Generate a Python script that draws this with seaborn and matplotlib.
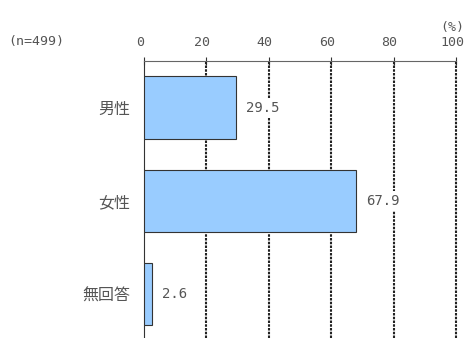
import matplotlib
matplotlib.use("Agg")
import matplotlib.pyplot as plt
import matplotlib.transforms as mtransforms
import seaborn as sns
import pandas as pd

categories = ["男性", "女性", "無回答"]
values = [29.5, 67.9, 2.6]
xticks = [0, 20, 40, 60, 80, 100]
n_label = "(n=499)"
unit_label = "(%)"

sns.set_style("white")
plt.rcParams['font.family'] = ['Noto Sans CJK JP', 'DejaVu Sans']
MONO = ['DejaVu Sans Mono']
TXT = "#555555"

df = pd.DataFrame({"cat": categories, "val": values})

fig = plt.figure(figsize=(4.67, 3.38), dpi=100)
ax = fig.add_axes([144/467, 0, (456-144)/467, 1 - 61/338])

sns.barplot(data=df, x="val", y="cat", orient="h", color="#99ccff",
            edgecolor="#333333", linewidth=0.8, width=0.67, saturation=1, ax=ax, zorder=3)

ax.set_xlim(0, 100)
ax.set_ylim(2.47, -0.5)
ax.xaxis.tick_top()
ax.set_xticks(xticks)
ax.set_xticklabels([str(t) for t in xticks], fontsize=9.5, color=TXT, family=MONO)
ax.tick_params(axis="x", direction="inout", length=6, width=0.8, color="#333333", pad=6)
ax.tick_params(axis="y", length=0, labelsize=11.5, labelcolor=TXT, pad=10)
ax.set_xlabel("")
ax.set_ylabel("")

shift = mtransforms.ScaledTranslation(-4/100, 0, fig.dpi_scale_trans)
for lbl in ax.get_xticklabels():
    lbl.set_transform(lbl.get_transform() + shift)

for t in xticks[1:]:
    ax.axvline(t, color="#222222", linestyle=(0, (1.2, 0.6)), linewidth=1.5,
               zorder=1, clip_on=False)

for s in ["right", "bottom"]:
    ax.spines[s].set_visible(False)
ax.spines["top"].set_color("#666666")
ax.spines["top"].set_linewidth(0.8)
ax.spines["left"].set_color("#333333")
ax.spines["left"].set_linewidth(0.8)

for i, v in enumerate(values):
    ax.text(v + 3.2, i, f"{v:.1f}", va="center", ha="left", fontsize=10,
            color=TXT, zorder=4, family=MONO,
            bbox=dict(facecolor="white", edgecolor="none", pad=2))

fig.text(8/467, 1 - 42/338, n_label, fontsize=9.5, color=TXT, va="center",
         ha="left", family=MONO)
fig.text(452/467, 1 - 27/338, unit_label, fontsize=9.5, color=TXT, va="center",
         ha="center", family=MONO)

fig.savefig("out.png", dpi=100)
